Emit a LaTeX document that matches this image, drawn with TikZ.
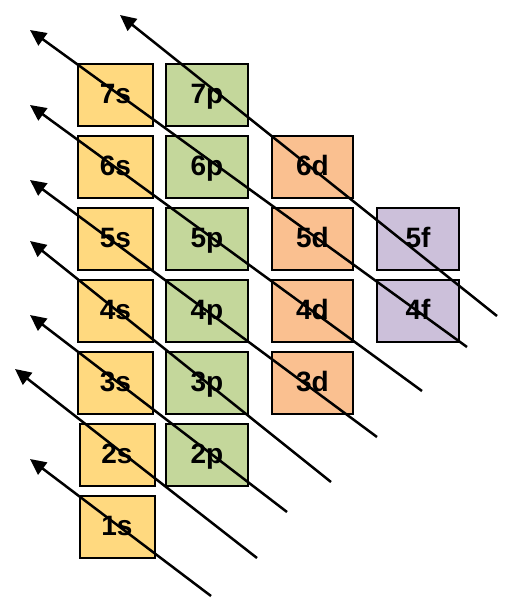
\documentclass[tikz,border=0pt]{standalone}
\usepackage{fontspec}
\setmainfont{Liberation Sans}
\usetikzlibrary{arrows.meta}
\definecolor{scol}{HTML}{FFD97F}
\definecolor{pcol}{HTML}{C4D79B}
\definecolor{dcol}{HTML}{FAC090}
\definecolor{fcol}{HTML}{CCC0DA}
\tikzset{
  orb/.style={draw=black, line width=2pt, inner sep=0pt, minimum height=62pt,
    text height=16pt, text depth=0pt,
    font=\fontsize{28}{30}\selectfont\bfseries},
  sbox/.style={orb, fill=scol, minimum width=75pt},
  pbox/.style={orb, fill=pcol, minimum width=82pt},
  dbox/.style={orb, fill=dcol, minimum width=81pt},
  fbox/.style={orb, fill=fcol, minimum width=82pt},
  arr/.style={line width=2.5pt, -{Triangle[length=16pt,width=15pt]}}
}
\begin{document}
\begin{tikzpicture}[x=1pt,y=-1pt]
\useasboundingbox (0,0) rectangle (508,608);
% s column
\node[sbox] (s7) at (115.5,95) {7s};
\node[sbox] (s6) at (115.5,167) {6s};
\node[sbox] (s5) at (115.5,239) {5s};
\node[sbox] (s4) at (115.5,311) {4s};
\node[sbox] (s3) at (115.5,383) {3s};
\node[sbox] (s2) at (117,455) {2s};
\node[sbox] (s1) at (117,527) {1s};
% p column
\node[pbox] (p7) at (207,95) {7p};
\node[pbox] (p6) at (207,167) {6p};
\node[pbox] (p5) at (207,239) {5p};
\node[pbox] (p4) at (207,311) {4p};
\node[pbox] (p3) at (207,383) {3p};
\node[pbox] (p2) at (207,455) {2p};
% d column
\node[dbox] (d6) at (312.5,167) {6d};
\node[dbox] (d5) at (312.5,239) {5d};
\node[dbox] (d4) at (312.5,311) {4d};
\node[dbox] (d3) at (312.5,383) {3d};
% f column
\node[fbox] (f5) at (418,239) {5f};
\node[fbox] (f4) at (418,311) {4f};
% arrow end points
\coordinate (t1) at (211,596); \coordinate (h1) at (30,459);
\coordinate (t2) at (257,558); \coordinate (h2) at (15,369);
\coordinate (t3) at (287,512); \coordinate (h3) at (30,315);
\coordinate (t4) at (331,482); \coordinate (h4) at (30,241);
\coordinate (t5) at (377,437); \coordinate (h5) at (30,180);
\coordinate (t6) at (422,391); \coordinate (h6) at (30,105);
\coordinate (t7) at (467,347); \coordinate (h7) at (30,30);
\coordinate (t8) at (497,316); \coordinate (h8) at (120,15);
\foreach \i in {1,...,8} { \draw[arr] (t\i) -- (h\i); }
\end{tikzpicture}
\end{document}
